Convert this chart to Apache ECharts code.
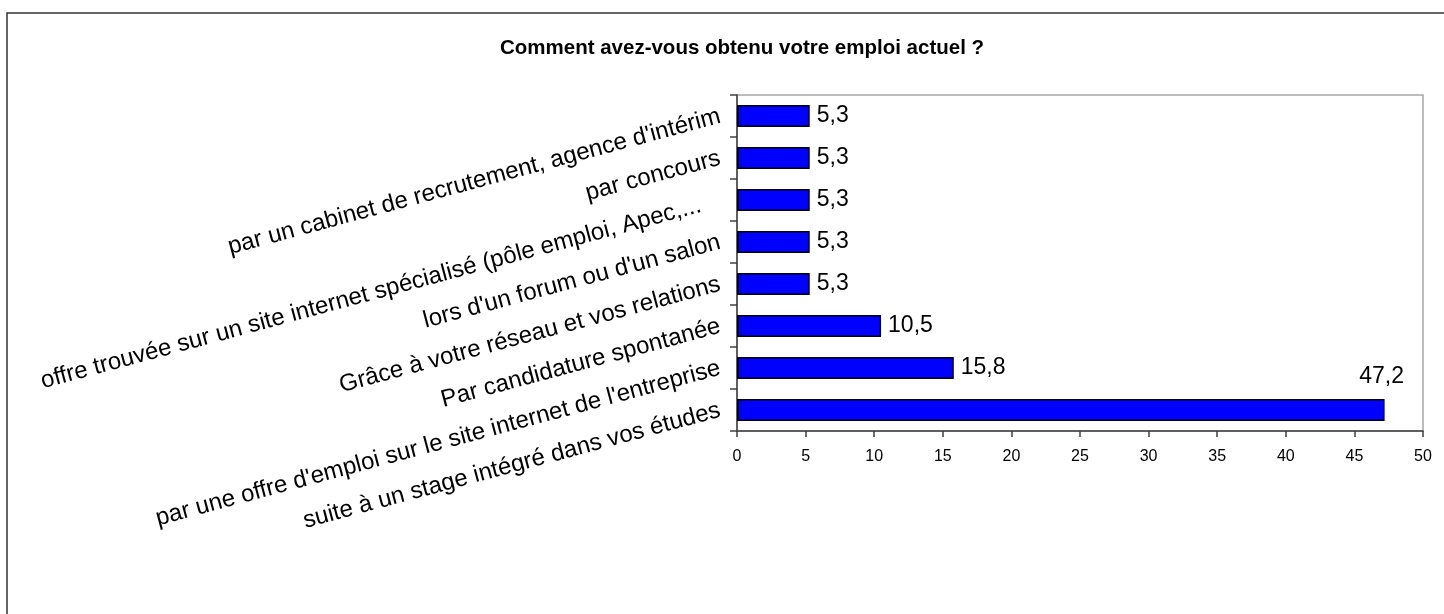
<!DOCTYPE html>
<html>
<head>
<meta charset="utf-8">
<title>Comment avez-vous obtenu votre emploi actuel ?</title>
<script src="https://cdn.jsdelivr.net/npm/echarts@6/dist/echarts.min.js"></script>
<style>
  html, body { margin: 0; padding: 0; background: #fff; }
  #chart { width: 1444px; height: 614px; }
</style>
</head>
<body>
<div id="chart"></div>
<script>
// catégories, de haut en bas
const categories = [
  "par un cabinet de recrutement, agence d'intérim",
  "par concours",
  "offre trouvée sur un site internet spécialisé (pôle emploi, Apec,...   ",
  "lors d'un forum ou d'un salon",
  "Grâce à votre réseau et vos relations",
  "Par candidature spontanée",
  "par une offre d'emploi sur le site internet de l'entreprise",
  "suite à un stage intégré dans vos études"
]
const percentages = [5.3, 5.3, 5.3, 5.3, 5.3, 10.5, 15.8, 47.2]
const xMin = 0
const xMax = 50
const xStep = 5

const FONT = '"Liberation Sans", Arial, sans-serif'
const AXIS_COLOR = '#404040'

const fmt = v => v.toFixed(1).replace('.', ',')

const chart = echarts.init(document.getElementById('chart'))

// la grande barre a son étiquette au-dessus de l'extrémité
const barData = percentages.map(v => v > 45 ? {
  value: v,
  label: {
    position: ['100%', 0],
    align: 'center',
    verticalAlign: 'middle',
    offset: [-3, -22]
  }
} : v)

const option = {
  animation: false,
  backgroundColor: '#fff',
  title: {
    text: 'Comment avez-vous obtenu votre emploi actuel ?',
    left: 742,
    top: 38,
    textAlign: 'center',
    padding: 0,
    textStyle: {
      fontFamily: FONT,
      fontSize: 20.5,
      fontWeight: 'bold',
      color: '#000'
    }
  },
  graphic: [{
    type: 'rect',
    z: -1,
    shape: { x: 7, y: 13, width: 1500, height: 700 },
    style: { fill: 'none', stroke: '#333', lineWidth: 1.5 }
  }],
  grid: {
    left: 737,
    right: 21,
    top: 95,
    bottom: 183,
    show: true,
    borderColor: '#a6a6a6',
    borderWidth: 1.5,
    outerBoundsMode: 'none'
  },
  xAxis: {
    type: 'value',
    min: xMin,
    max: xMax,
    interval: xStep,
    splitLine: { show: false },
    axisLine: { show: true, lineStyle: { color: AXIS_COLOR, width: 1.5 } },
    axisTick: { show: true, inside: false, length: 6, lineStyle: { color: AXIS_COLOR, width: 1.5 } },
    axisLabel: {
      fontFamily: '"Liberation Sans Narrow", "Liberation Sans", Arial, sans-serif',
      fontSize: 16,
      color: '#000',
      margin: 18
    }
  },
  yAxis: {
    type: 'category',
    data: categories,
    inverse: true,
    axisLine: { show: true, lineStyle: { color: AXIS_COLOR, width: 1.5 } },
    axisTick: { show: true, inside: false, length: 7, lineStyle: { color: AXIS_COLOR, width: 1.5 } },
    axisLabel: {
      rotate: 15,
      fontFamily: FONT,
      fontSize: 24,
      color: '#000',
      margin: 17,
      padding: [24, 0, 0, 0]
    }
  },
  series: [{
    type: 'bar',
    data: barData,
    barCategoryGap: '48%',
    itemStyle: {
      color: '#0000ff',
      borderColor: '#000',
      borderWidth: 1.5
    },
    label: {
      show: true,
      position: 'right',
      distance: 7,
      fontFamily: FONT,
      fontSize: 23,
      color: '#000',
      formatter: p => fmt(p.value)
    }
  }]
}

chart.setOption(option)
window.addEventListener('resize', () => chart.resize())
</script>
</body>
</html>
